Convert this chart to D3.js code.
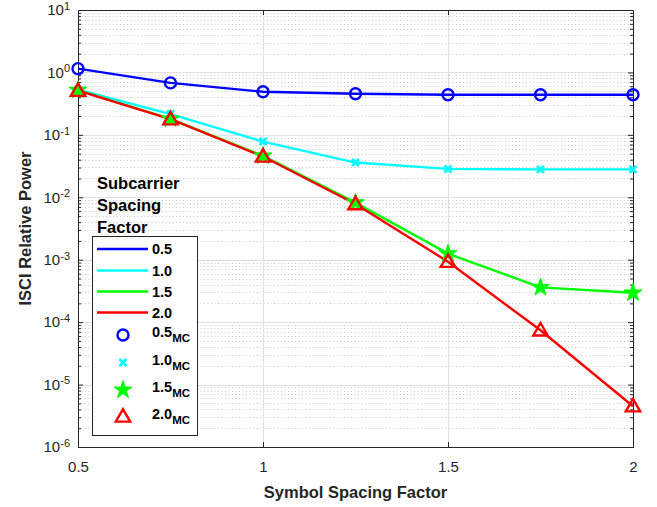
<!DOCTYPE html>
<html>
<head>
<meta charset="utf-8">
<script src="https://cdn.jsdelivr.net/npm/d3@7"></script>
<style>
  html, body { margin: 0; padding: 0; background: #fff; }
  svg { display: block; font-family: "Liberation Sans", Arial, sans-serif; }
</style>
</head>
<body>
<svg id="chart" width="657" height="507"></svg>
<script>
// Symbol spacing factor (x) and ISCI relative power for each subcarrier spacing factor
const symbolSpacing = [0.5, 0.75, 1.0, 1.25, 1.5, 1.75, 2.0];
const power05 = [1.15, 0.68, 0.49, 0.455, 0.44, 0.44, 0.44];
const power10 = [0.53, 0.215, 0.078, 0.036, 0.0285, 0.028, 0.028];
const power15 = [0.52, 0.18, 0.046, 0.0082, 0.00125, 0.00036, 0.000295];
const power20 = [0.51, 0.178, 0.045, 0.0078, 0.00093, 0.000074, 0.0000045];
const seriesNames = ["0.5", "1.0", "1.5", "2.0"];
const seriesColors = ["#0000ff", "#00ffff", "#00ff00", "#ff0000"];
const markerKinds = ["circle", "cross", "star", "triangle"];
const xTicks = [0.5, 1, 1.5, 2];
const xTickLabels = ["0.5", "1", "1.5", "2"];
const yExponents = [1, 0, -1, -2, -3, -4, -5, -6];

const series = [power05, power10, power15, power20].map((vals, i) => ({
  name: seriesNames[i], color: seriesColors[i], marker: markerKinds[i],
  points: symbolSpacing.map((x, j) => ({ x, y: vals[j] }))
}));

const svg = d3.select("#chart");
const L = 78, R = 633, T = 10, B = 447;
const x = d3.scaleLinear().domain([0.5, 2]).range([L, R]);
const y = d3.scaleLog().domain([1e-6, 10]).range([B, T]);
const axisColor = "#262626";

// grid: minor (dotted) then major (solid)
const minorVals = [];
for (let e = -6; e < 1; e++) for (let m = 2; m <= 9; m++) minorVals.push(m * Math.pow(10, e));
const grid = svg.append("g");
grid.selectAll("line.minor").data(minorVals).join("line")
  .attr("x1", L).attr("x2", R)
  .attr("y1", d => Math.round(y(d)) + 0.5).attr("y2", d => Math.round(y(d)) + 0.5)
  .attr("stroke", "#c8c8c8").attr("stroke-width", 1).attr("stroke-dasharray", "1,2.5");
grid.selectAll("line.majy").data(yExponents.map(e => Math.pow(10, e))).join("line")
  .attr("x1", L).attr("x2", R)
  .attr("y1", d => Math.round(y(d)) + 0.5).attr("y2", d => Math.round(y(d)) + 0.5)
  .attr("stroke", "#e0e0e0").attr("stroke-width", 1);
grid.selectAll("line.majx").data(xTicks).join("line")
  .attr("x1", d => Math.round(x(d)) + 0.5).attr("x2", d => Math.round(x(d)) + 0.5)
  .attr("y1", T).attr("y2", B)
  .attr("stroke", "#e0e0e0").attr("stroke-width", 1);

// axes with inward ticks
const xAxis = d3.axisBottom(x).tickValues(xTicks).tickFormat((d, i) => xTickLabels[i])
  .tickSizeInner(-5).tickSizeOuter(0).tickPadding(14);
const gx = svg.append("g").attr("transform", `translate(0,${B})`).call(xAxis);
gx.select(".domain").remove();
gx.selectAll("line").attr("stroke", axisColor);
gx.selectAll("text").attr("fill", axisColor).attr("font-size", 15)
  .attr("font-family", "Liberation Sans, Arial, sans-serif");

const gxTop = svg.append("g").attr("transform", `translate(0,${T})`)
  .call(d3.axisTop(x).tickValues(xTicks).tickSizeInner(-5).tickSizeOuter(0).tickFormat(""));
gxTop.select(".domain").remove();
gxTop.selectAll("line").attr("stroke", axisColor);

// y axis: major ticks with power-of-ten labels, minor ticks
const yMajor = yExponents.map(e => Math.pow(10, e));
const gy = svg.append("g").attr("transform", `translate(${L},0)`)
  .call(d3.axisLeft(y).tickValues(yMajor).tickSizeInner(-5).tickSizeOuter(0).tickPadding(9).tickFormat(""));
gy.select(".domain").remove();
gy.selectAll("line").attr("stroke", axisColor);
gy.selectAll(".tick").each(function (d) {
  const e = Math.round(Math.log10(d));
  const t = d3.select(this).append("text")
    .attr("x", -8).attr("dy", "0.32em").attr("text-anchor", "end")
    .attr("fill", axisColor).attr("font-size", 15);
  t.append("tspan").text("10");
  t.append("tspan").attr("dy", "-0.5em").attr("font-size", 11).text(String(e));
});
const gyMinor = svg.append("g").attr("transform", `translate(${L},0)`)
  .call(d3.axisLeft(y).tickValues(minorVals).tickSizeInner(-3).tickSizeOuter(0).tickFormat(""));
gyMinor.select(".domain").remove();
gyMinor.selectAll("line").attr("stroke", axisColor);
const gyR = svg.append("g").attr("transform", `translate(${R},0)`)
  .call(d3.axisRight(y).tickValues(yMajor).tickSizeInner(-5).tickSizeOuter(0).tickFormat(""));
gyR.select(".domain").remove();
gyR.selectAll("line").attr("stroke", axisColor);
const gyRMinor = svg.append("g").attr("transform", `translate(${R},0)`)
  .call(d3.axisRight(y).tickValues(minorVals).tickSizeInner(-3).tickSizeOuter(0).tickFormat(""));
gyRMinor.select(".domain").remove();
gyRMinor.selectAll("line").attr("stroke", axisColor);

// box
svg.append("rect").attr("x", L + 0.5).attr("y", T + 0.5)
  .attr("width", R - L).attr("height", B - T)
  .attr("fill", "none").attr("stroke", axisColor).attr("stroke-width", 1);

// lines
const line = d3.line().x(d => x(d.x)).y(d => y(d.y));
svg.append("g").selectAll("path").data(series).join("path")
  .attr("d", d => line(d.points))
  .attr("fill", "none").attr("stroke", d => d.color).attr("stroke-width", 2.4);

// marker shapes
function drawMarker(g, kind, color) {
  if (kind === "circle") {
    g.append("circle").attr("r", 5.5).attr("fill", "none")
      .attr("stroke", color).attr("stroke-width", 2.4);
  } else if (kind === "cross") {
    g.append("path").attr("d", "M-3.5,-3.5L3.5,3.5M-3.5,3.5L3.5,-3.5")
      .attr("stroke", color).attr("stroke-width", 2.8).attr("fill", "none");
  } else if (kind === "star") {
    g.append("path").attr("d", d3.symbol().type(d3.symbolStar).size(100)())
      .attr("fill", color).attr("stroke", color).attr("stroke-width", 1);
  } else {
    g.append("path").attr("d", d3.symbol().type(d3.symbolTriangle).size(90)())
      .attr("transform", "translate(0,1)")
      .attr("fill", "none").attr("stroke", color).attr("stroke-width", 2.4);
  }
}
series.forEach(s => {
  s.points.forEach(p => {
    const g = svg.append("g").attr("transform", `translate(${x(p.x)},${y(p.y)})`);
    drawMarker(g, s.marker, s.color);
  });
});

// axis titles
svg.append("text").attr("x", (L + R) / 2).attr("y", 498).attr("text-anchor", "middle")
  .attr("font-size", 16.5).attr("font-weight", "bold").attr("fill", axisColor)
  .text("Symbol Spacing Factor");
svg.append("text").attr("transform", `translate(31,${(T + B) / 2}) rotate(-90)`)
  .attr("text-anchor", "middle")
  .attr("font-size", 16.5).attr("font-weight", "bold").attr("fill", axisColor)
  .text("ISCI Relative Power");

// legend
const lg = svg.append("g");
["Subcarrier", "Spacing", "Factor"].forEach((t, i) => {
  lg.append("text").attr("x", 97).attr("y", 189 + i * 22)
    .attr("font-size", 16.5).attr("font-weight", "bold").attr("fill", "#000").text(t);
});
lg.append("rect").attr("x", 92.5).attr("y", 236.5).attr("width", 105).attr("height", 199)
  .attr("fill", "#fff").attr("stroke", axisColor).attr("stroke-width", 1);
const lineRows = [249, 270.5, 291.5, 312.5];
series.forEach((s, i) => {
  lg.append("line").attr("x1", 97).attr("x2", 148)
    .attr("y1", lineRows[i]).attr("y2", lineRows[i])
    .attr("stroke", s.color).attr("stroke-width", 2.4);
  lg.append("text").attr("x", 152).attr("y", lineRows[i]).attr("dy", "0.35em")
    .attr("font-size", 14.5).attr("font-weight", "bold").attr("fill", "#000").text(s.name);
});
const markerRows = [335, 362.5, 390, 416.5];
series.forEach((s, i) => {
  const g = lg.append("g").attr("transform", `translate(123,${markerRows[i]})`);
  drawMarker(g, s.marker, s.color);
  const t = lg.append("text").attr("x", 152).attr("y", markerRows[i] - 3).attr("dy", "0.35em")
    .attr("font-size", 14.5).attr("font-weight", "bold").attr("fill", "#000");
  t.append("tspan").text(s.name);
  t.append("tspan").attr("dy", "0.45em").attr("font-size", 11.5).text("MC");
});
</script>
</body>
</html>
